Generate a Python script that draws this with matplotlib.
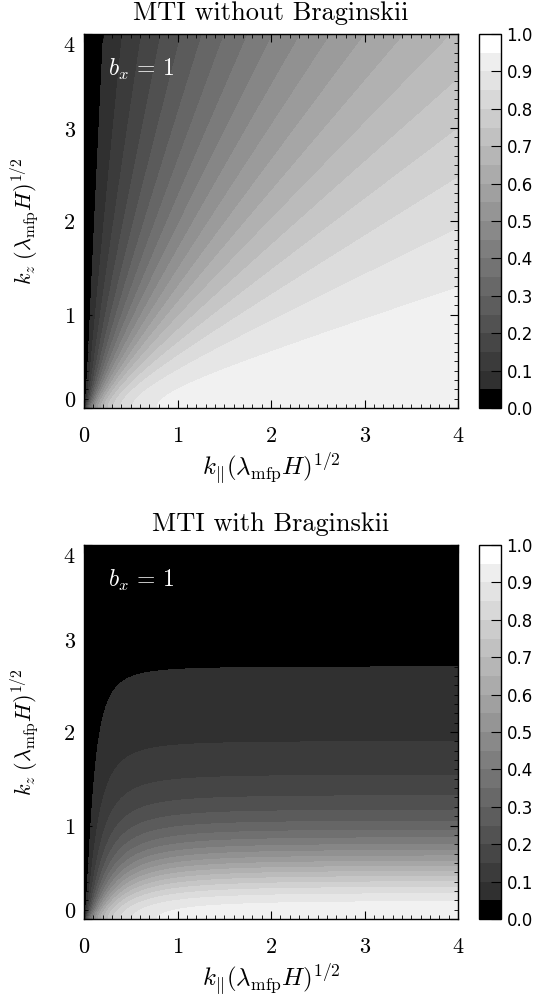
import numpy as np
import matplotlib
matplotlib.use("Agg")
import matplotlib.pyplot as plt
import matplotlib.colors as mcolors
import matplotlib.cm as mcm
from matplotlib.ticker import MultipleLocator
import matplotlib.transforms as mtransforms

plt.rcParams['mathtext.fontset'] = 'cm'

# wavenumber grid, k(lambda_mfp H)^1/2
kpar = np.linspace(0.0, 4.0, 401)
kz = np.linspace(0.0, 4.0, 401)

# model parameters
cond_rate = 14.4         # conduction frequency / k_par^2
visc_rate = [0.0, 2.74]  # Braginskii viscous frequency coefficient (off, on)
titles = ['MTI without Braginskii', 'MTI with Braginskii']

levels = np.linspace(0.0, 1.0, 21)
cbar_ticks = np.arange(0.0, 1.01, 0.1)
axis_ticks = [0, 1, 2, 3, 4]

# grey bands in the panels and in the colour bar
panel_greys = [0.0] + list(np.linspace(48, 241, 19) / 255.0)
cbar_greys = [0.0] + list(np.linspace(48, 238, 18) / 255.0) + [1.0]


def growth_rate(visc):
    KX, KZ = np.meshgrid(kpar, kz)
    k2 = KX**2 + KZ**2
    safe = np.where(k2 > 0, k2, 1.0)
    s2 = np.where(k2 > 0, KX**2 / safe, 0.0)
    wc = cond_rate * KX**2
    wv = visc * KX**2 * KZ**2 / safe
    lo = np.zeros_like(KX)
    hi = np.ones_like(KX)
    # positive root of s^3 + (wc+wv) s^2 + wc wv s - wc s2 = 0
    for _ in range(50):
        mid = 0.5 * (lo + hi)
        f = mid**3 + (wc + wv) * mid**2 + wc * wv * mid - wc * s2
        neg = f < 0
        lo = np.where(neg, mid, lo)
        hi = np.where(neg, hi, mid)
    return KX, KZ, 0.5 * (lo + hi)


W, H = 544, 1001
fig = plt.figure(figsize=(W / 100, H / 100), dpi=100)

panel_cmap = mcolors.ListedColormap([(g, g, g) for g in panel_greys])
cb_cmap = mcolors.ListedColormap([(g, g, g) for g in cbar_greys])
norm = mcolors.BoundaryNorm(levels, 20)

# vertical nudges (px) of the y tick labels, IDL style
ylab_shift = [7, -3, -2.5, -3.5, -12]

ax_tops = [34, 545]
for i in range(2):
    top = ax_tops[i]
    ax = fig.add_axes([84 / W, 1 - (top + 374) / H, 374 / W, 374 / H])
    KX, KZ, sig = growth_rate(visc_rate[i])
    ax.contourf(KX, KZ, sig, levels=levels, cmap=panel_cmap, norm=norm)
    ax.set_xlim(0, 4)
    ax.set_ylim(0, 4)
    ax.set_xticks(axis_ticks)
    ax.set_yticks(axis_ticks)
    ax.xaxis.set_minor_locator(MultipleLocator(0.1))
    ax.yaxis.set_minor_locator(MultipleLocator(0.1))
    ax.tick_params(which='both', direction='in', top=True, right=True, colors='black')
    ax.tick_params(which='major', length=6, width=0.8)
    ax.tick_params(which='minor', length=3, width=0.6)
    ax.tick_params(axis='x', which='major', pad=13)
    ax.tick_params(axis='y', labelleft=False)
    for lab in ax.get_xticklabels():
        lab.set_fontfamily('cmr10')
        lab.set_fontsize(16)
    for v, dy in zip(axis_ticks, ylab_shift):
        tr = ax.get_yaxis_transform() + mtransforms.ScaledTranslation(
            -9 / 100, dy / 100, fig.dpi_scale_trans)
        ax.text(0, v, str(v), transform=tr, ha='right', va='center',
                fontfamily='cmr10', fontsize=16)
    for sp in ax.spines.values():
        sp.set_linewidth(1.0)

    ax.set_title(titles[i], fontfamily='cmr10', fontsize=19, pad=10)
    ax.set_xlabel(r'$k_{||}(\lambda_{\rm mfp}H)^{1/2}$', fontsize=18, labelpad=3)
    ax.set_ylabel(r'$k_z\;(\lambda_{\rm mfp}H)^{1/2}$', fontsize=16)
    ax.yaxis.set_label_coords(-0.114, 0.5)
    ax.text(0.065, 0.905, r'$b_x\,=\,1$', transform=ax.transAxes, color='white',
            fontsize=17, ha='left', va='center')

    cax = fig.add_axes([479 / W, 1 - (top + 374) / H, 22 / W, 374 / H])
    sm = mcm.ScalarMappable(norm=mcolors.BoundaryNorm(levels, 20), cmap=cb_cmap)
    cb = fig.colorbar(sm, cax=cax, ticks=cbar_ticks, format='%.1f')
    cb.outline.set_linewidth(1.0)
    cax.tick_params(direction='in', length=7, width=0.8, pad=4, colors='black')
    cax.minorticks_off()
    for lab in cax.get_yticklabels():
        lab.set_fontfamily('DejaVu Sans')
        lab.set_fontsize(12)

fig.savefig('out.png', dpi=100)
